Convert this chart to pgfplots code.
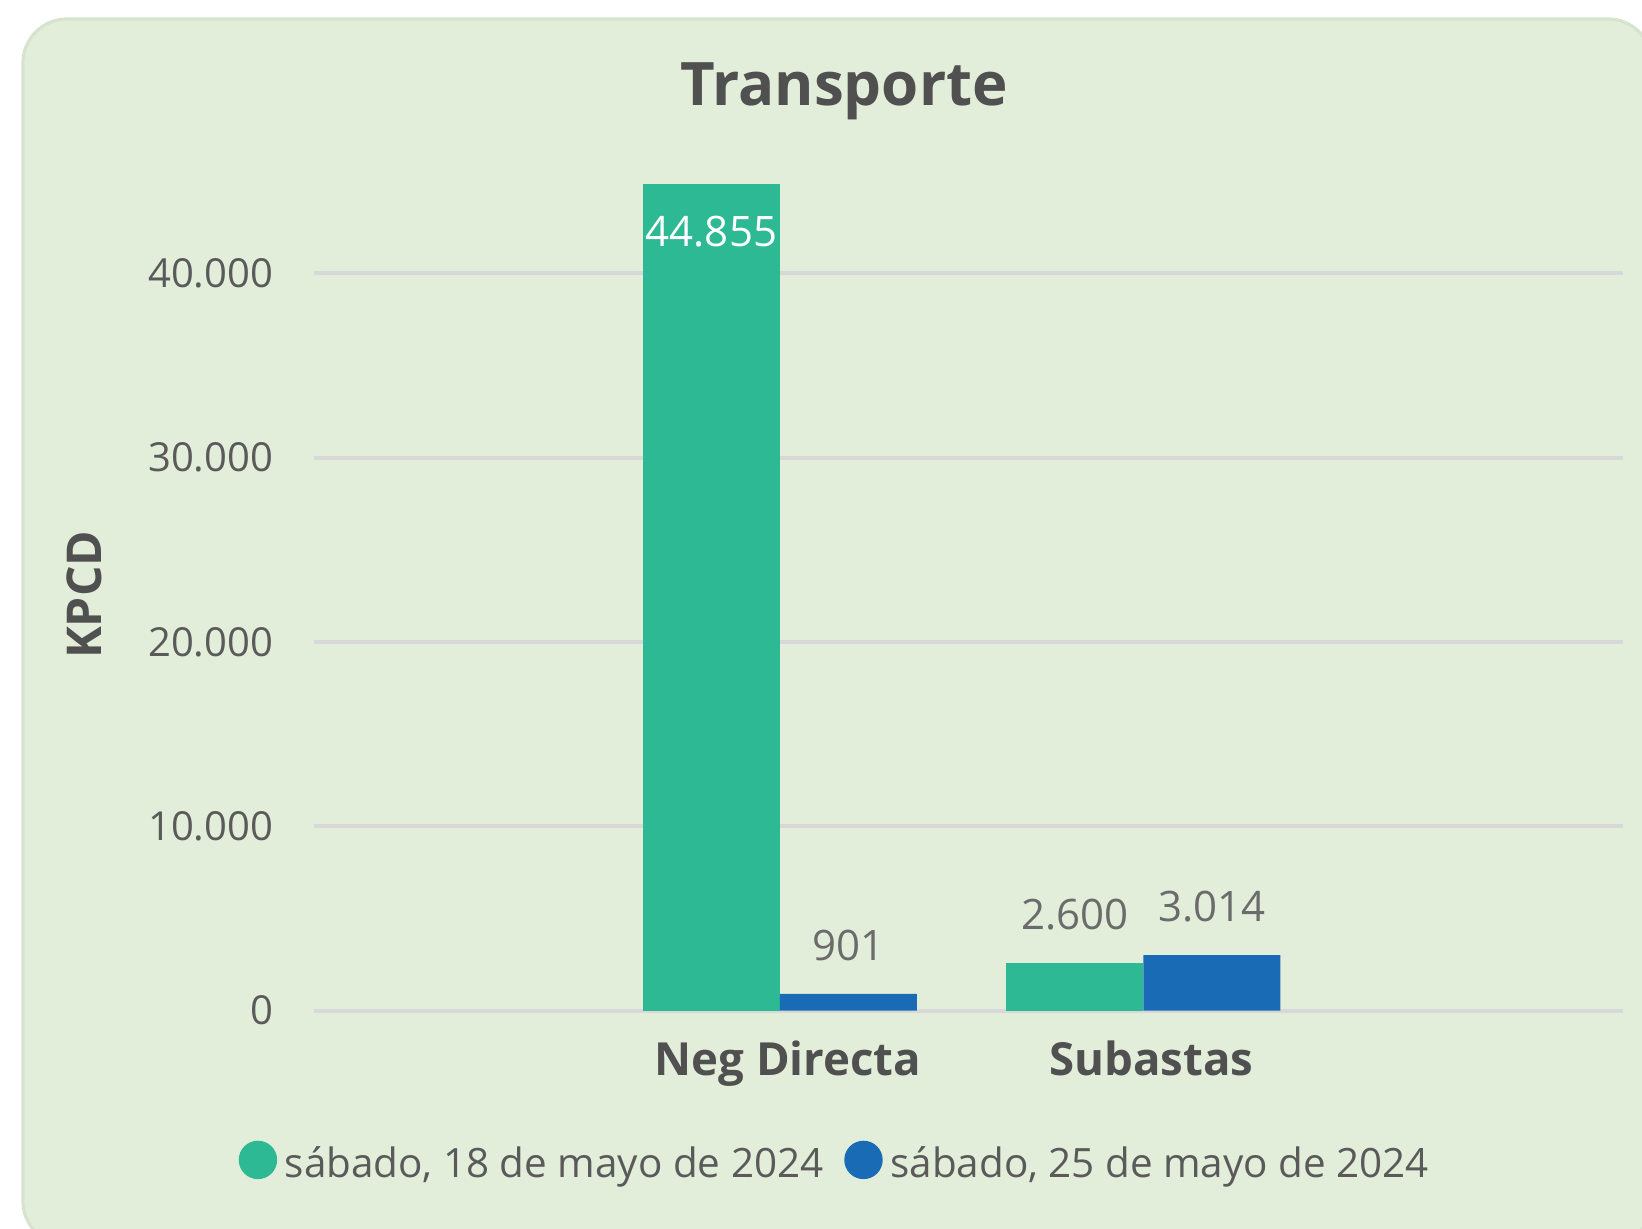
\documentclass[border=0pt]{standalone}
\usepackage{fontspec}
\setmainfont{Open Sans}
\usepackage{pgfplots}
\pgfplotsset{compat=1.18}
\definecolor{bg}{HTML}{E2EED9}
\definecolor{bgedge}{HTML}{D6E4CD}
\definecolor{cgreen}{HTML}{2CB994}
\definecolor{cblue}{HTML}{1A6BB5}
\definecolor{txt}{HTML}{5A5A5A}
\definecolor{ttl}{HTML}{505050}
\definecolor{lbl}{HTML}{6B6B6B}
\definecolor{gridc}{HTML}{D8D8D8}
\newcommand{\lblfont}{\fontsize{10.5}{12}\selectfont}
\begin{document}
\begin{tikzpicture}
\useasboundingbox (0,0) rectangle (410.5pt,307.25pt);
\fill[white] (0,0) rectangle (410.5pt,307.25pt);
\draw[bgedge, fill=bg, line width=0.8pt, rounded corners=11pt] (5.75pt,-4pt) rectangle (413pt,302.5pt);
\begin{axis}[
  at={(78.5pt,54.6pt)}, anchor=south west,
  scale only axis, width=327.25pt, height=216.55pt,
  xmin=-1.282, xmax=2.320, ymin=0, ymax=47000,
  clip=false,
  ybar=0pt,
  axis line style={draw=none},
  major tick length=0pt,
  ymajorgrids, grid style={gridc, line width=1pt},
  ytick={0,10000,20000,30000,40000},
  scaled y ticks=false,
  yticklabel style={/pgf/number format/.cd, 1000 sep={.}, assume math mode=true, /tikz/.cd,
     anchor=east, inner sep=0pt, xshift=-10pt, font=\fontsize{10}{12}\selectfont, text=txt},
  xtick={0,1}, xticklabels={Neg Directa, Subastas},
  xticklabel style={font=\bfseries\fontsize{11.4}{14}\selectfont, text=ttl, anchor=base, yshift=-16.2pt, xshift=2pt},
  title={Transporte},
  title style={at={(axis description cs:0.405,1)}, anchor=center, yshift=7.2pt,
     font=\bfseries\fontsize{15}{18}\selectfont, text=ttl},
  ylabel={KPCD},
  ylabel style={at={(axis description cs:-0.1757,0.48)}, anchor=center,
     font=\bfseries\fontsize{12}{14}\selectfont, text=ttl},
  legend columns=2,
  legend style={at={(axis description cs:0.399,-0.178)}, anchor=center, draw=none, fill=none,
     font=\fontsize{10.1}{12}\selectfont, text=txt,
     /tikz/every even column/.append style={column sep=4pt},
     nodes={inner sep=1.2pt}},
]
% green series, first category (label inside)
\addplot[bar width=34.25pt, bar shift=-17.125pt, fill=cgreen, draw=none, forget plot,
  nodes near coords, point meta=explicit symbolic,
  every node near coord/.append style={anchor=center, yshift=-11.9pt, text=white, font=\lblfont}]
  coordinates {(0,44855) [44.855]};
% green series, second category (label above)
\addplot[bar width=34.25pt, bar shift=-17.125pt, fill=cgreen, draw=none, forget plot,
  nodes near coords, point meta=explicit symbolic,
  every node near coord/.append style={anchor=center, yshift=12pt, text=lbl, font=\lblfont}]
  coordinates {(1,2600) [2.600]};
% blue series
\addplot[bar width=34.25pt, bar shift=17.125pt, fill=cblue, draw=none, forget plot,
  nodes near coords, point meta=explicit symbolic,
  every node near coord/.append style={anchor=center, yshift=12pt, text=lbl, font=\lblfont}]
  coordinates {(0,901) [901] (1,3014) [3.014]};
\addlegendimage{legend image code/.code={\fill[cgreen] (4.6pt,1.4pt) circle (4.6pt); \path (9.9pt,1.4pt);}}
\addlegendentry{sábado, 18 de mayo de 2024}
\addlegendimage{legend image code/.code={\fill[cblue] (4.6pt,1.4pt) circle (4.6pt); \path (9.9pt,1.4pt);}}
\addlegendentry{sábado, 25 de mayo de 2024}
\end{axis}
\end{tikzpicture}
\end{document}
